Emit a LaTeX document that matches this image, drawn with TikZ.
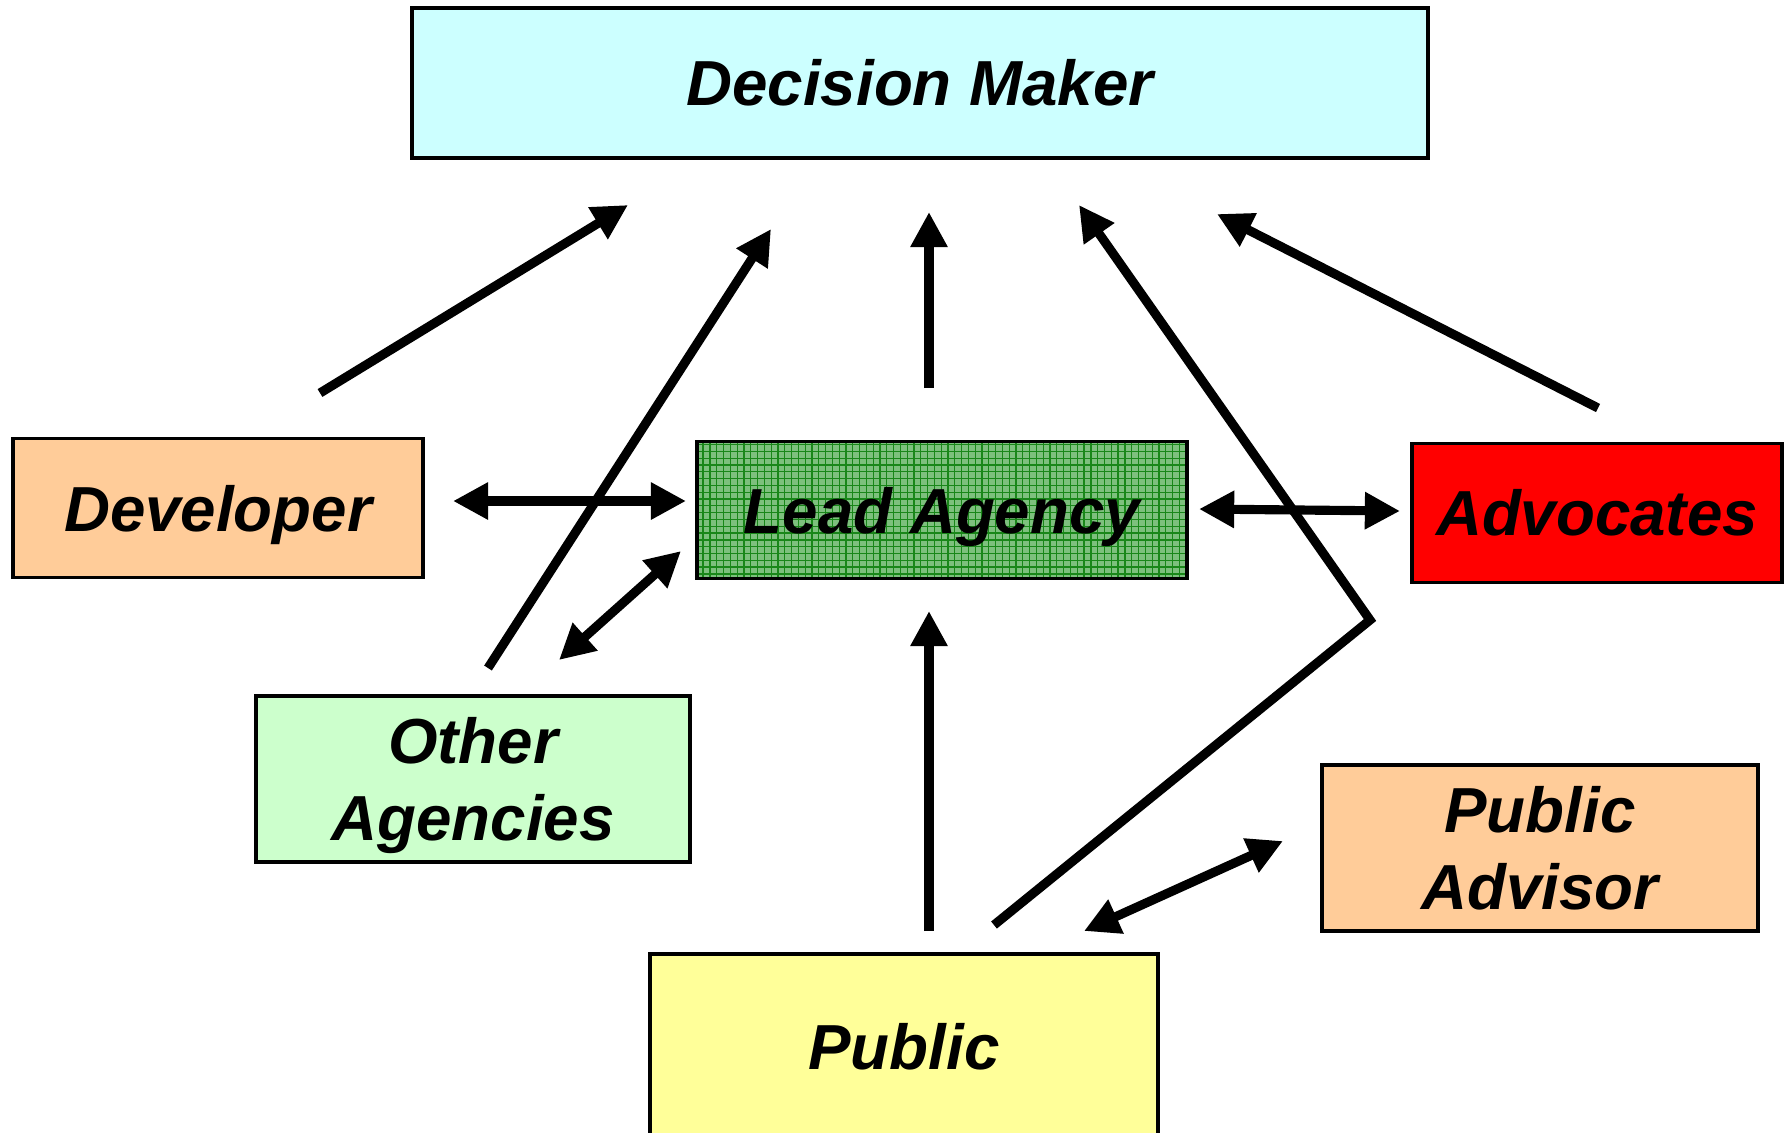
\documentclass[tikz,border=0pt]{standalone}
\usepackage{fontspec}
\setmainfont{Liberation Sans}
\usepackage{tikz}
\usetikzlibrary{arrows.meta}
\definecolor{dmcyan}{RGB}{204,255,255}
\definecolor{devorange}{RGB}{255,204,153}
\definecolor{advred}{RGB}{255,0,0}
\definecolor{oagreen}{RGB}{204,255,204}
\definecolor{pubyellow}{RGB}{255,255,153}
\definecolor{lagreen}{RGB}{125,192,125}
\definecolor{lagrid}{RGB}{25,135,25}
\tikzstyle{actor} = [rectangle, draw, line width=1.1pt, align=center,
  font=\fontsize{18.1}{22}\selectfont\bfseries\itshape]
\tikzstyle{flow} = [line width=2.6pt]

\begin{document}
\begin{tikzpicture}[x=0.01cm,y=-0.01cm,>={Triangle[length=10pt,width=10pt]}]
  \useasboundingbox (0,0) rectangle (1785,1132);
  \node[actor, fill=dmcyan, minimum width=10.16cm, minimum height=1.5cm] (DM) at (920,83) {Decision Maker};
  \node[actor, fill=devorange, minimum width=4.1cm, minimum height=1.39cm, text depth=0pt] (Dev) at (218,508) {Developer};
  \node[actor, fill=lagreen, minimum width=4.89cm, minimum height=1.37cm, text depth=0pt,
    path picture={\draw[lagrid, line width=0.35pt, step=0.068cm]
      (path picture bounding box.south west) grid (path picture bounding box.north east);}] (LA) at (942,510) {Lead Agency};
  \node[actor, fill=advred, minimum width=3.7cm, minimum height=1.39cm] (Adv) at (1597,513) {Advocates};
  \node[actor, fill=oagreen, minimum width=4.34cm, minimum height=1.66cm, text depth=0pt] (OA) at (473,779) {Other\\Agencies};
  \node[actor, fill=devorange, minimum width=4.35cm, minimum height=1.66cm] (PA) at (1540,848) {Public\\Advisor};
  \node[actor, fill=pubyellow, minimum width=5.08cm, minimum height=1.86cm] (Pub) at (904,1047) {Public};

  % free ends of the connectors
  \coordinate (DevUp) at (320,393);
  \coordinate (DMdev) at (628,205);
  \coordinate (OAup) at (488,668);
  \coordinate (DMoa) at (771,229);
  \coordinate (LAup) at (929,388);
  \coordinate (DMla) at (929,212);
  \coordinate (PubUp) at (994,925);
  \coordinate (Bend) at (1370,620);
  \coordinate (DMpub) at (1079,205);
  \coordinate (AdvUp) at (1598,408);
  \coordinate (DMadv) at (1217,214);
  \coordinate (DevRight) at (453,501);
  \coordinate (LAleft) at (686,501);
  \coordinate (LAright) at (1199,509);
  \coordinate (AdvLeft) at (1400,511);
  \coordinate (OAright) at (559,660);
  \coordinate (LAlow) at (681,551);
  \coordinate (PubMid) at (929,931);
  \coordinate (LAdown) at (929,611);
  \coordinate (PubRight) at (1084,931);
  \coordinate (PAleft) at (1283,841);

  \path[flow,->] (DevUp) edge (DMdev);
  \path[flow,->] (OAup) edge (DMoa);
  \path[flow,->] (LAup) edge (DMla);
  \draw[flow,->] (PubUp) -- (Bend) -- (DMpub);
  \path[flow,->] (AdvUp) edge (DMadv);
  \path[flow,<->] (DevRight) edge (LAleft);
  \path[flow,<->] (LAright) edge (AdvLeft);
  \path[flow,<->] (OAright) edge (LAlow);
  \path[flow,->] (PubMid) edge (LAdown);
  \path[flow,<->] (PubRight) edge (PAleft);
\end{tikzpicture}
\end{document}
